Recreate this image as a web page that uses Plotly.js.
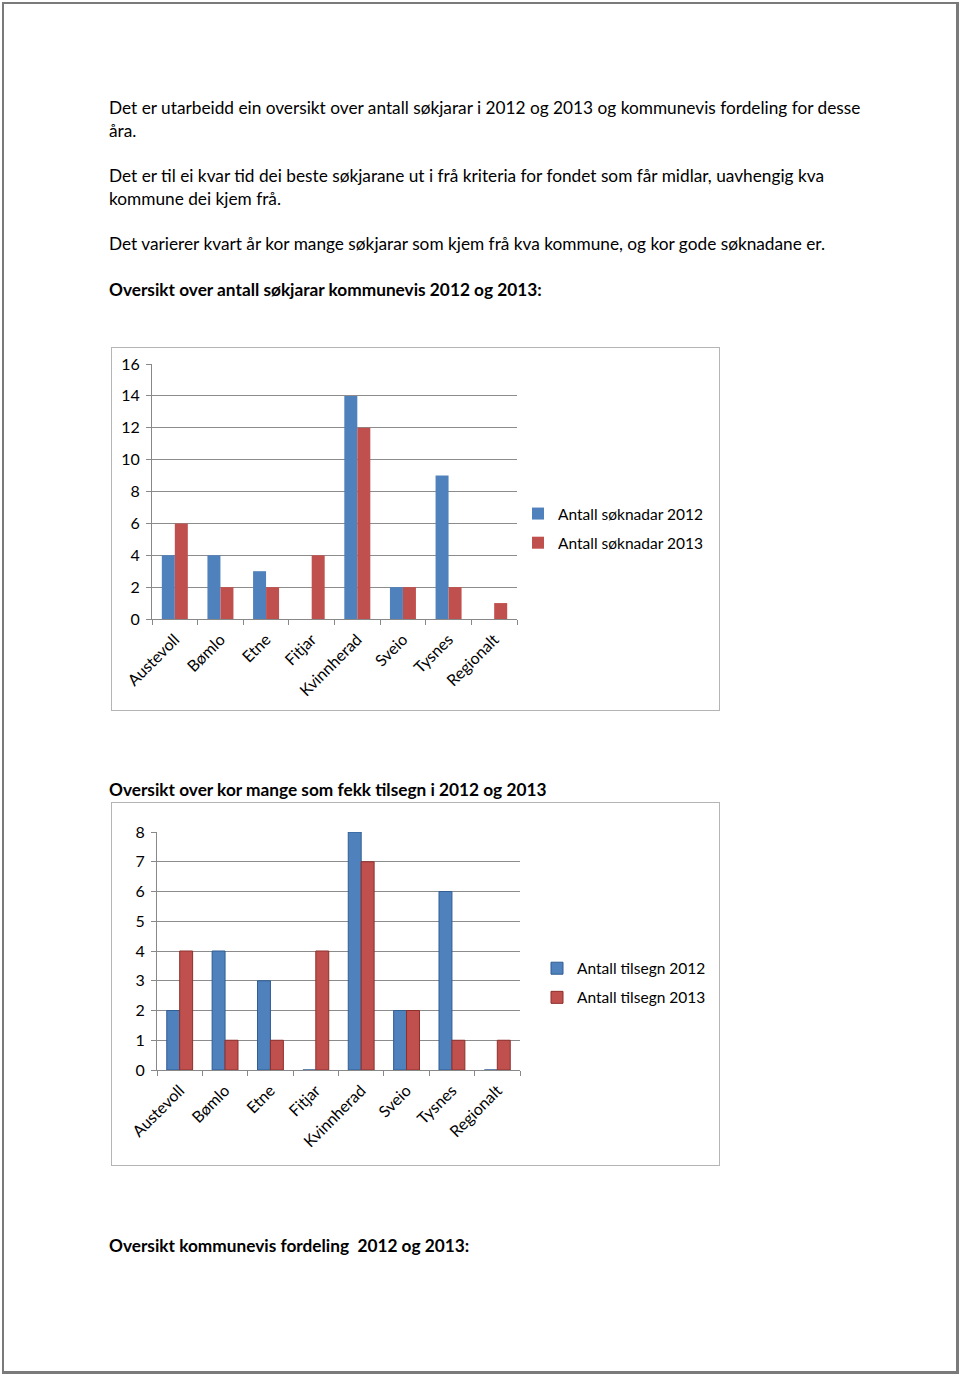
<!DOCTYPE html>
<html>
<head>
<meta charset="utf-8">
<script src="https://cdn.plot.ly/plotly-3.0.1.min.js"></script>
<style>
  html, body { margin: 0; padding: 0; background: #fff; }
  body { width: 960px; height: 1375px; position: relative; overflow: hidden; font-family: Lato, "Open Sans", sans-serif; color: #000; }
  .page { position: absolute; left: 2px; top: 2px; width: 952px; height: 1367px; border: 2px solid #7a7a7a; border-right-width: 3px; border-bottom-width: 3px; }
  .t { position: absolute; left: 109px; font-size: 17.25px; line-height: 20px; white-space: nowrap; }
  .b { font-weight: bold; }
  .chart { position: absolute; left: 111px; width: 609px; height: 364px; box-sizing: border-box; border: 1px solid #b5b5b5; }
</style>
</head>
<body>
<div class="page"></div>
<div class="t" style="top:98px">Det er utarbeidd ein oversikt over antall søkjarar i 2012 og 2013 og kommunevis fordeling for desse</div>
<div class="t" style="top:121px">åra.</div>
<div class="t" style="top:166px">Det er til ei kvar tid dei beste søkjarane ut i frå kriteria for fondet som får midlar, uavhengig kva</div>
<div class="t" style="top:189px">kommune dei kjem frå.</div>
<div class="t" style="top:234px">Det varierer kvart år kor mange søkjarar som kjem frå kva kommune, og kor gode søknadane er.</div>
<div class="t b" style="top:280px">Oversikt over antall søkjarar kommunevis 2012 og 2013:</div>
<div id="c1" class="chart" style="top:347px"></div>
<div class="t b" style="top:780px">Oversikt over kor mange som fekk tilsegn i 2012 og 2013</div>
<div id="c2" class="chart" style="top:802px"></div>
<div class="t b" style="top:1236px">Oversikt kommunevis fordeling&nbsp; 2012 og 2013:</div>

<script>
const categories = ["Austevoll", "Bømlo", "Etne", "Fitjar", "Kvinnherad", "Sveio", "Tysnes", "Regionalt"];
const soknadar2012 = [4, 4, 3, 0, 14, 2, 9, 0];
const soknadar2013 = [6, 2, 2, 4, 12, 2, 2, 1];
const tilsegn2012 = [2, 4, 3, 0, 8, 2, 6, 0];
const tilsegn2013 = [4, 1, 1, 4, 7, 2, 1, 1];
const names1 = ["Antall søknadar 2012", "Antall søknadar 2013"];
const names2 = ["Antall tilsegn 2012", "Antall tilsegn 2013"];

const BLUE = "#4F81BD", RED = "#C0504D";
const FF = "Lato, 'Open Sans', sans-serif";
const TICKFONT = { family: FF, size: 16, color: "#000" };
const LEGFONT = { family: FF, size: 15.5, color: "#000" };

function layoutFor(opts) {
  const plotW = 607 - opts.margin.l - opts.margin.r;
  return {
    width: 607, height: 362,
    margin: opts.margin,
    paper_bgcolor: "rgba(0,0,0,0)",
    plot_bgcolor: "rgba(0,0,0,0)",
    font: TICKFONT,
    barmode: "group",
    bargap: 0.43,
    bargroupgap: 0,
    showlegend: true,
    legend: { x: opts.legendLeft / plotW, y: opts.legendY, xanchor: "left", yanchor: "middle",
              traceorder: "grouped", tracegroupgap: 6, font: LEGFONT, itemwidth: 30 },
    xaxis: {
      type: "category", tickangle: -45, tickson: "boundaries",
      domain: [0, opts.plotWidth / plotW],
      ticks: "outside", ticklen: 5, tickcolor: "#888",
      showline: true, linecolor: "#888", linewidth: 1,
      showgrid: false, tickfont: TICKFONT, automargin: false, ticklabelstandoff: 4
    },
    yaxis: {
      range: opts.yRange, dtick: opts.dtick, ticks: "outside", ticklen: 5, tickcolor: "#888",
      showline: true, linecolor: "#888", linewidth: 1,
      showgrid: true, gridcolor: "#8c8c8c", gridwidth: 1,
      zeroline: false, tickfont: TICKFONT, automargin: false, ticklabelstandoff: 3
    }
  };
}

Plotly.newPlot("c1", [
  { type: "bar", x: categories, y: soknadar2012, name: names1[0], legendgroup: "a", marker: { color: BLUE } },
  { type: "bar", x: categories, y: soknadar2013, name: names1[1], legendgroup: "b", marker: { color: RED } }
], layoutFor({ margin: { l: 40, r: 2, t: 16, b: 91 }, plotWidth: 365, legendLeft: 366, yRange: [0, 16], dtick: 2, legendY: 0.355 }),
{ staticPlot: true });

Plotly.newPlot("c2", [
  { type: "bar", x: categories, y: tilsegn2012, name: names2[0], legendgroup: "a",
    marker: { color: BLUE, line: { color: "#2f5d94", width: 1 } } },
  { type: "bar", x: categories, y: tilsegn2013, name: names2[1], legendgroup: "b",
    marker: { color: RED, line: { color: "#8e2f2c", width: 1 } } }
], layoutFor({ margin: { l: 45, r: 2, t: 29, b: 95 }, plotWidth: 363, legendLeft: 380, yRange: [0, 8], dtick: 1, legendY: 0.365 }),
{ staticPlot: true });
</script>
</body>
</html>
